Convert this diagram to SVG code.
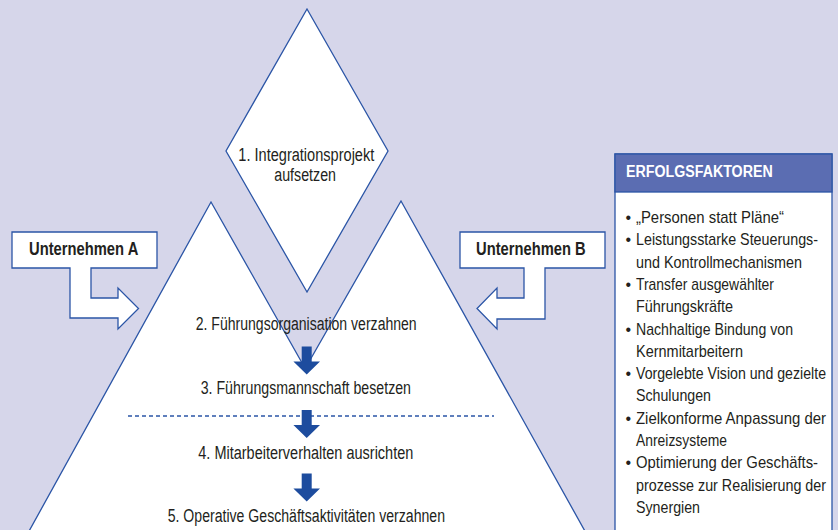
<svg xmlns="http://www.w3.org/2000/svg" width="838" height="530" viewBox="0 0 838 530">
  <style>
    .bg { fill: #d6d6ea; }
    .shape { fill: #ffffff; stroke: #2b55a6; stroke-width: 1.3; stroke-linejoin: miter; }
    .lbl { font-family: "Liberation Sans Narrow", "Liberation Sans", Arial, sans-serif; font-size: 18px; fill: #231f20; }
    .bold { font-family: "Liberation Sans Narrow", "Liberation Sans", Arial, sans-serif; font-weight: bold; font-size: 18.5px; fill: #231f20; }
    .head { font-family: "Liberation Sans Narrow", "Liberation Sans", Arial, sans-serif; font-weight: bold; font-size: 16px; fill: #ffffff; }
    .li { font-family: "Liberation Sans Narrow", "Liberation Sans", Arial, sans-serif; font-size: 16px; fill: #231f20; }
    .flow { fill: #1d4c9e; }
    .sep { stroke: #2b55a6; stroke-width: 1.3; stroke-dasharray: 4 3; fill: none; }
  </style>
  <defs>
    <path id="down" d="M -5 0 H 5 V 15 H 13.3 L 0 28 L -13.3 15 H -5 Z"/>
  </defs>

  <rect class="bg" x="0" y="0" width="838" height="530"/>

  <g id="pyramid">
    <polygon points="28,533 211,202 305.2,368.5 401,201 586,533" class="shape"/>
  </g>

  <g id="n1">
    <polygon class="shape" points="307,9 388,151 307,292 226,151"/>
    <text class="lbl" x="238.3" y="161" textLength="136" lengthAdjust="spacingAndGlyphs">1. Integrationsprojekt</text>
    <text class="lbl" x="274.3" y="181" textLength="61.7" lengthAdjust="spacingAndGlyphs">aufsetzen</text>
  </g>

  <g id="unternehmenA">
    <polygon class="shape" points="12,232 157,232 157,268 91,268 91,298 118,298 118,288 138.5,308.5 118,329 118,318 70,318 70,268 12,268"/>
    <text class="bold" x="29" y="255" textLength="109.3" lengthAdjust="spacingAndGlyphs">Unternehmen A</text>
  </g>

  <g id="unternehmenB">
    <polygon class="shape" points="460,232 605,232 605,268 545,268 545,319 497,319 497,329 477,308.5 497,288 497,298 524,298 524,268 460,268"/>
    <text class="bold" x="476" y="255" textLength="109.7" lengthAdjust="spacingAndGlyphs">Unternehmen B</text>
  </g>

  <g id="separator">
    <line class="sep" x1="128" y1="416" x2="494" y2="416"/>
  </g>

  <g id="n2">
    <text class="lbl" x="195.7" y="330" textLength="221" lengthAdjust="spacingAndGlyphs">2. Führungsorganisation verzahnen</text>
  </g>
  <g id="n3">
    <text class="lbl" x="200.7" y="394" textLength="210.3" lengthAdjust="spacingAndGlyphs">3. Führungsmannschaft besetzen</text>
  </g>
  <g id="n4">
    <text class="lbl" x="198.3" y="459.3" textLength="215" lengthAdjust="spacingAndGlyphs">4. Mitarbeiterverhalten ausrichten</text>
  </g>
  <g id="n5">
    <text class="lbl" x="167.7" y="521.7" textLength="277.3" lengthAdjust="spacingAndGlyphs">5. Operative Geschäftsaktivitäten verzahnen</text>
  </g>

  <g id="connectors">
    <use href="#down" class="flow" x="306.7" y="346.5"/>
    <use href="#down" class="flow" x="306.7" y="410"/>
    <use href="#down" class="flow" x="306.7" y="473.5"/>
  </g>

  <g id="erfolgsfaktoren">
    <rect x="615" y="154" width="217" height="390" fill="#ffffff" stroke="#2b55a6" stroke-width="1.3"/>
    <rect x="615" y="154" width="217" height="38" fill="#5b6db2" stroke="#2b55a6" stroke-width="1.3"/>
    <text class="head" x="626" y="177" textLength="146.7" lengthAdjust="spacingAndGlyphs">ERFOLGSFAKTOREN</text>
    <g class="li">
      <text x="625.5" y="223">•</text>
      <text transform="translate(636 223) scale(0.8 1)" textLength="185" lengthAdjust="spacingAndGlyphs">„Personen statt Pläne“</text>
      <text x="625.5" y="245.3">•</text>
      <text transform="translate(636 245.3) scale(0.8 1)" textLength="227.5" lengthAdjust="spacingAndGlyphs">Leistungsstarke Steuerungs-</text>
      <text transform="translate(636 267.6) scale(0.8 1)" textLength="207.5" lengthAdjust="spacingAndGlyphs">und Kontrollmechanismen</text>
      <text x="625.5" y="289.9">•</text>
      <text transform="translate(636 289.9) scale(0.8 1)" textLength="172.5" lengthAdjust="spacingAndGlyphs">Transfer ausgewählter</text>
      <text transform="translate(636 312.2) scale(0.8 1)" textLength="121.25" lengthAdjust="spacingAndGlyphs">Führungskräfte</text>
      <text x="625.5" y="334.5">•</text>
      <text transform="translate(636 334.5) scale(0.8 1)" textLength="196.25" lengthAdjust="spacingAndGlyphs">Nachhaltige Bindung von</text>
      <text transform="translate(636 356.8) scale(0.8 1)" textLength="133.75" lengthAdjust="spacingAndGlyphs">Kernmitarbeitern</text>
      <text x="625.5" y="379.1">•</text>
      <text transform="translate(636 379.1) scale(0.8 1)" textLength="237.5" lengthAdjust="spacingAndGlyphs">Vorgelebte Vision und gezielte</text>
      <text transform="translate(636 401.4) scale(0.8 1)" textLength="93.75" lengthAdjust="spacingAndGlyphs">Schulungen</text>
      <text x="625.5" y="423.7">•</text>
      <text transform="translate(636 423.7) scale(0.8 1)" textLength="237.5" lengthAdjust="spacingAndGlyphs">Zielkonforme Anpassung der</text>
      <text transform="translate(636 446) scale(0.8 1)" textLength="113.75" lengthAdjust="spacingAndGlyphs">Anreizsysteme</text>
      <text x="625.5" y="468.3">•</text>
      <text transform="translate(636 468.3) scale(0.8 1)" textLength="227.5" lengthAdjust="spacingAndGlyphs">Optimierung der Geschäfts-</text>
      <text transform="translate(636 490.6) scale(0.8 1)" textLength="237.5" lengthAdjust="spacingAndGlyphs">prozesse zur Realisierung der</text>
      <text transform="translate(636 512.9) scale(0.8 1)" textLength="80" lengthAdjust="spacingAndGlyphs">Synergien</text>
    </g>
  </g>
</svg>
